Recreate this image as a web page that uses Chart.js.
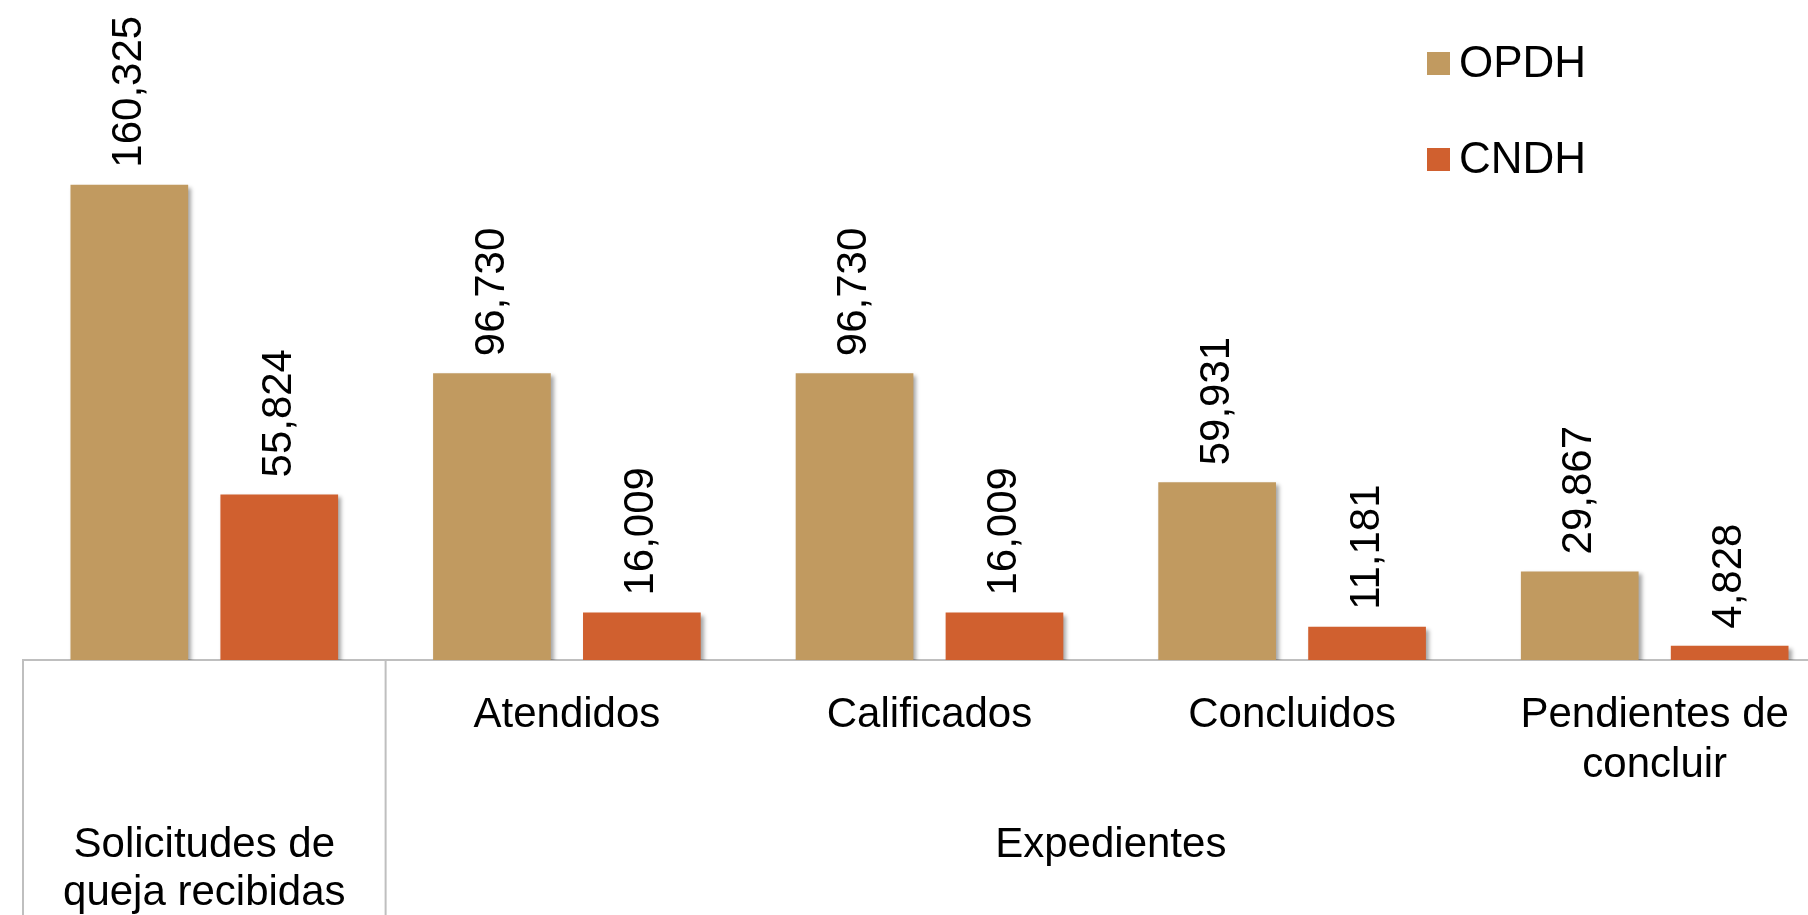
<!DOCTYPE html>
<html>
<head>
<meta charset="utf-8">
<script src="https://cdn.jsdelivr.net/npm/chart.js@4"></script>
<style>
  html, body { margin: 0; padding: 0; background: #fff; overflow: hidden; }
  #wrap { width: 1840px; height: 915px; position: relative; }
</style>
</head>
<body>
<div id="wrap"><canvas id="chart"></canvas></div>
<script>
// categories (first row of the axis) and the groups under them
const categories = ['', 'Atendidos', 'Calificados', 'Concluidos', ['Pendientes de', 'concluir']];
const groupLabels = [['Solicitudes de', 'queja recibidas'], ['Expedientes']];
const groupSpans = [[0, 0], [1, 4]];

const seriesNames = ['OPDH', 'CNDH'];
const opdhValues = [160325, 96730, 96730, 59931, 29867];
const cndhValues = [55824, 16009, 16009, 11181, 4828];

const colors = ['#C19A60', '#D0602F'];
const font = 'Liberation Sans, Arial, sans-serif';

// bar shadow + rotated value labels
const labelPlugin = {
    id: 'labels',
    beforeDatasetsDraw(chart) {
        const ctx = chart.ctx;
        ctx.save();
        ctx.shadowColor = 'rgba(0,0,0,0.35)';
        ctx.shadowOffsetX = 3;
        ctx.shadowOffsetY = 3;
        ctx.shadowBlur = 4;
    },
    afterDatasetsDraw(chart) {
        const ctx = chart.ctx;
        ctx.restore();
        ctx.save();
        ctx.fillStyle = '#000';
        ctx.font = '42px ' + font;
        ctx.textAlign = 'left';
        ctx.textBaseline = 'middle';
        chart.data.datasets.forEach((ds, i) => {
            chart.getDatasetMeta(i).data.forEach((bar, j) => {
                ctx.save();
                ctx.translate(bar.x, bar.y - 17);
                ctx.rotate(-Math.PI / 2);
                ctx.fillText(ds.data[j].toLocaleString('en-US'), 0, 0);
                ctx.restore();
            });
        });
        ctx.restore();
    },
    afterDraw(chart) {
        const ctx = chart.ctx;
        const x = chart.scales.x;
        const area = chart.chartArea;
        const bottom = chart.height;
        ctx.save();
        // separator lines in the axis area
        ctx.strokeStyle = '#BFBFBF';
        ctx.lineWidth = 2;
        const sep = (x.getPixelForTick(0) + x.getPixelForTick(1)) / 2;
        [area.left, sep].forEach(px => {
            ctx.beginPath();
            ctx.moveTo(px, area.bottom);
            ctx.lineTo(px, bottom);
            ctx.stroke();
        });
        // group labels
        ctx.fillStyle = '#000';
        ctx.font = '42px ' + font;
        ctx.textAlign = 'center';
        ctx.textBaseline = 'middle';
        groupLabels.forEach((lines, g) => {
            const cx = (x.getPixelForTick(groupSpans[g][0]) + x.getPixelForTick(groupSpans[g][1])) / 2;
            lines.forEach((t, k) => ctx.fillText(t, cx, 845 + k * 48));
        });
        // legend
        ctx.textAlign = 'left';
        ctx.font = '44px ' + font;
        chart.data.datasets.forEach((ds, i) => {
            const y = 52 + i * 96;
            ctx.fillStyle = ds.backgroundColor;
            ctx.fillRect(1427, y, 23, 23);
            ctx.fillStyle = '#000';
            ctx.fillText(ds.label, 1459, y + 13);
        });
        ctx.restore();
    }
};

new Chart(document.getElementById('chart'), {
    type: 'bar',
    data: {
        labels: categories,
        datasets: [
            { label: seriesNames[0], data: opdhValues, backgroundColor: colors[0] },
            { label: seriesNames[1], data: cndhValues, backgroundColor: colors[1] }
        ]
    },
    options: {
        responsive: true,
        maintainAspectRatio: false,
        animation: false,
        devicePixelRatio: 1,
        categoryPercentage: 0.827,
        barPercentage: 0.785,
        layout: { padding: { top: 67, left: 23, right: 4, bottom: 0 } },
        plugins: { legend: { display: false }, tooltip: { enabled: false } },
        scales: {
            x: {
                grid: { display: false, drawTicks: false },
                border: { display: true, color: '#BFBFBF', width: 2 },
                ticks: {
                    color: '#000',
                    font: { family: font, size: 42 },
                    padding: 30,
                    maxRotation: 0,
                    autoSkip: false
                },
                afterFit(scale) { scale.height = 255; }
            },
            y: { display: false, min: 0, max: 200000 }
        }
    },
    plugins: [labelPlugin]
});
</script>
</body>
</html>
